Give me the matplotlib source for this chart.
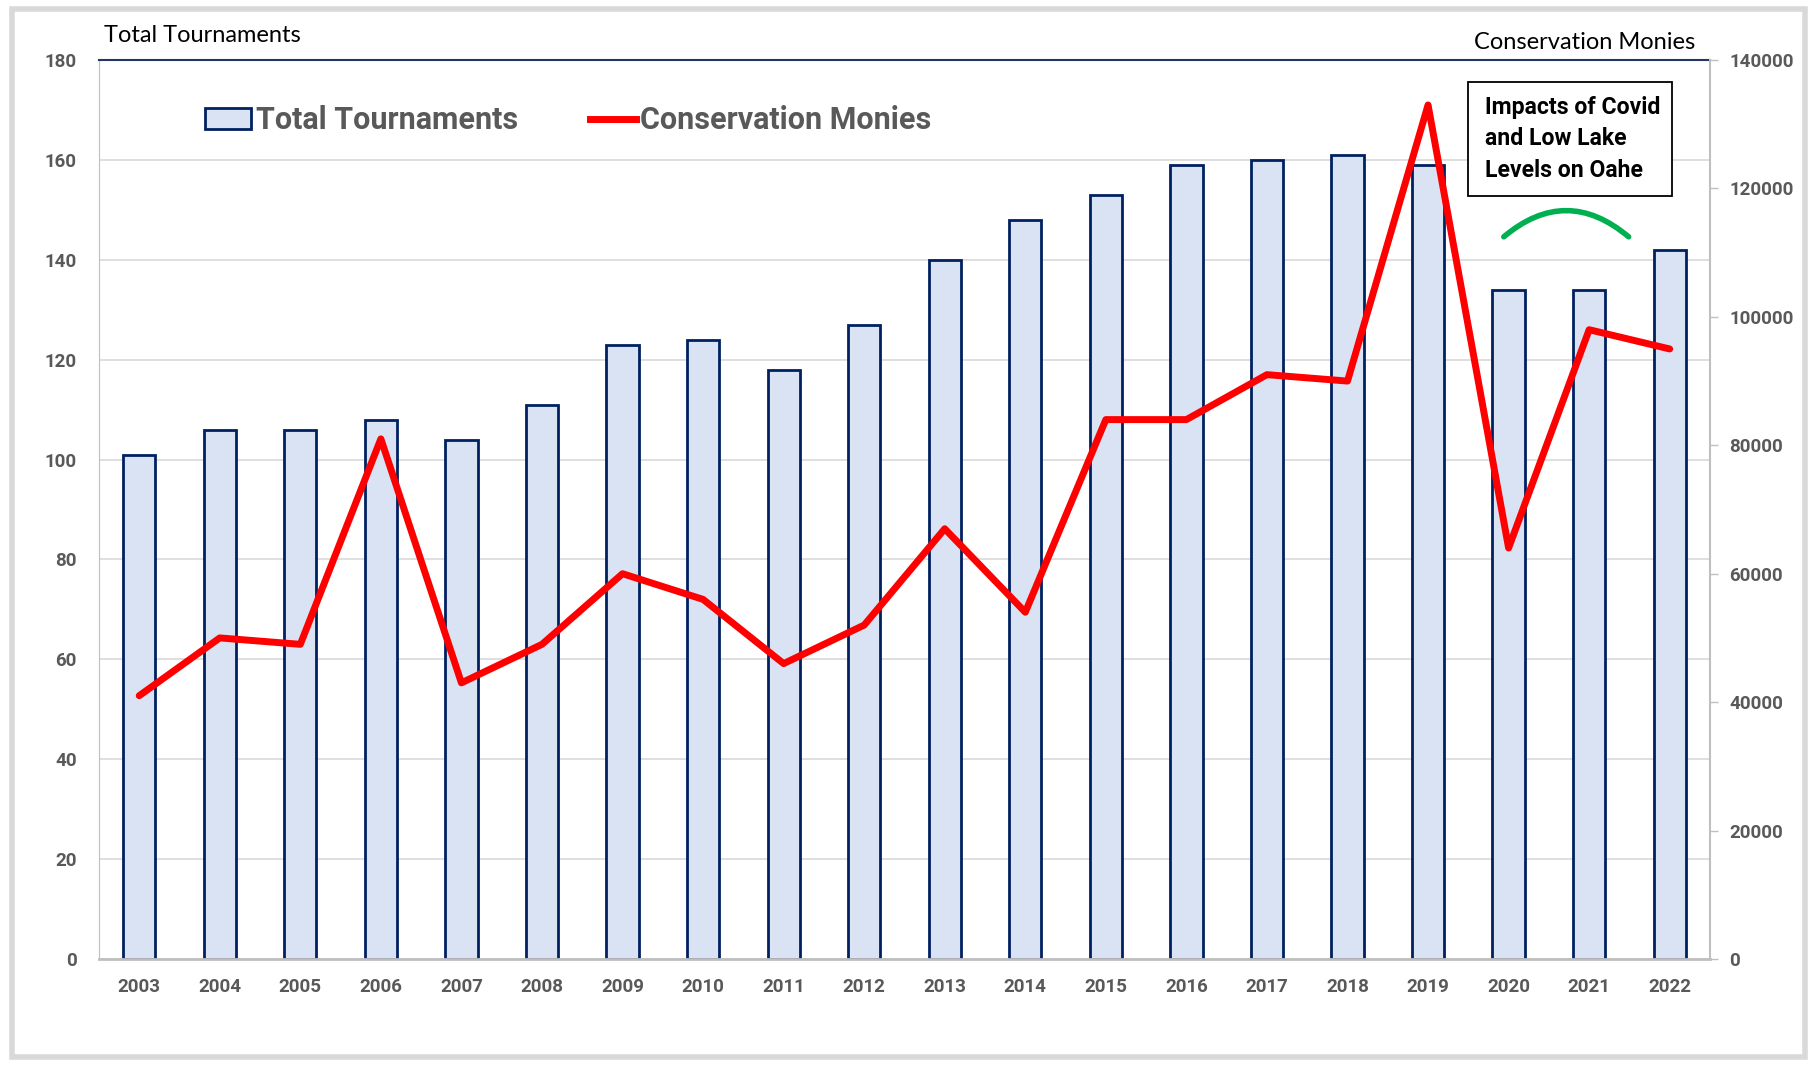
import numpy as np
import matplotlib
matplotlib.use("Agg")
import matplotlib.pyplot as plt
from matplotlib.patches import Patch, Rectangle
from matplotlib.lines import Line2D

years = [str(y) for y in range(2003, 2023)]
tournaments = [101, 106, 106, 108, 104, 111, 123, 124, 118, 127,
               140, 148, 153, 159, 160, 161, 159, 134, 134, 142]
monies = [41000, 50000, 49000, 81000, 43000, 49000, 60000, 56000, 46000, 52000,
          67000, 54000, 84000, 84000, 91000, 90000, 133000, 64000, 98000, 95000]

plt.rcParams['font.family'] = ['Lato', 'DejaVu Sans']
bold_font = ['Roboto', 'DejaVu Sans']
gray_txt = '#595959'

fig = plt.figure(figsize=(18.12, 10.66), dpi=100)
ax = fig.add_axes([0.0546, 0.1004, 0.8891, 0.8433])
ax2 = ax.twinx()

x = np.arange(len(years))
ax.bar(x, tournaments, width=0.4, color='#dae3f3', edgecolor='#002060', linewidth=2, zorder=2)
ax2.plot(x, monies, color='#ff0000', lw=5, solid_capstyle='round', solid_joinstyle='round', zorder=3)

ax.set_xlim(-0.5, 19.5)
ax.set_ylim(0, 180)
ax.set_yticks(np.arange(0, 181, 20))
ax2.set_ylim(0, 140000)
ax2.set_yticks(np.arange(0, 140001, 20000))
ax.set_xticks(x)
ax.set_xticklabels(years)

ax.grid(axis='y', color='#d9d9d9', lw=1.2, zorder=0)
ax.set_axisbelow(True)

for a in (ax, ax2):
    for lab in a.get_yticklabels() + a.get_xticklabels():
        lab.set_family(bold_font)
        lab.set_fontweight('bold')
        lab.set_color(gray_txt)
        lab.set_fontsize(13.5)
ax.tick_params(axis='y', length=0, pad=16)
ax.tick_params(axis='x', length=0, pad=14)
ax2.tick_params(axis='y', length=6, width=1, color='#bfbfbf', pad=8)

ax.spines['left'].set_color('#bfbfbf')
ax.spines['bottom'].set_color('#bfbfbf')
ax.spines['bottom'].set_linewidth(2)
ax.spines['top'].set_color('#1f3864')
ax.spines['top'].set_linewidth(1.5)
ax.spines['right'].set_visible(False)
ax2.spines['right'].set_color('#bfbfbf')
ax2.spines['right'].set_linewidth(1.5)
for s in ('left', 'top', 'bottom'):
    ax2.spines[s].set_visible(False)

fig.text(0.0574, 0.967, 'Total Tournaments', fontsize=17, color='black', va='center', ha='left')
fig.text(0.9357, 0.960, 'Conservation Monies', fontsize=17, color='black', va='center', ha='right')

handles = [Patch(facecolor='#dae3f3', edgecolor='#002060', linewidth=2),
           Line2D([0], [0], color='#ff0000', lw=5)]
leg = ax.legend(handles, ['Total Tournaments', 'Conservation Monies'], ncol=2, frameon=False,
                loc='center left', bbox_to_anchor=(0.049, 0.933), handlelength=1.5,
                handletextpad=0.15, columnspacing=2.35,
                prop={'size': 22, 'weight': 'bold', 'family': bold_font})
for t in leg.get_texts():
    t.set_color(gray_txt)

# annotation box
fig.patches.append(Rectangle((0.810, 0.816), 0.113, 0.107, transform=fig.transFigure,
                             facecolor='white', edgecolor='black', lw=1.3, zorder=5))
fig.text(0.8195, 0.8699, 'Impacts of Covid\nand Low Lake\nLevels on Oahe', family=bold_font,
         fontsize=16.6, fontweight='bold', va='center', ha='left', linespacing=1.48, zorder=6)

ax.annotate('', xy=(18.49, 144.6), xytext=(16.94, 144.6),
            arrowprops=dict(arrowstyle='-', connectionstyle='arc3,rad=-0.42',
                            color='#00b050', lw=4, shrinkA=0, shrinkB=0))

fig.patches.append(Rectangle((0.0065, 0.008), 0.9895, 0.984, transform=fig.transFigure,
                             fill=False, edgecolor='#d9d9d9', lw=4))

fig.savefig('out.png', dpi=100)
